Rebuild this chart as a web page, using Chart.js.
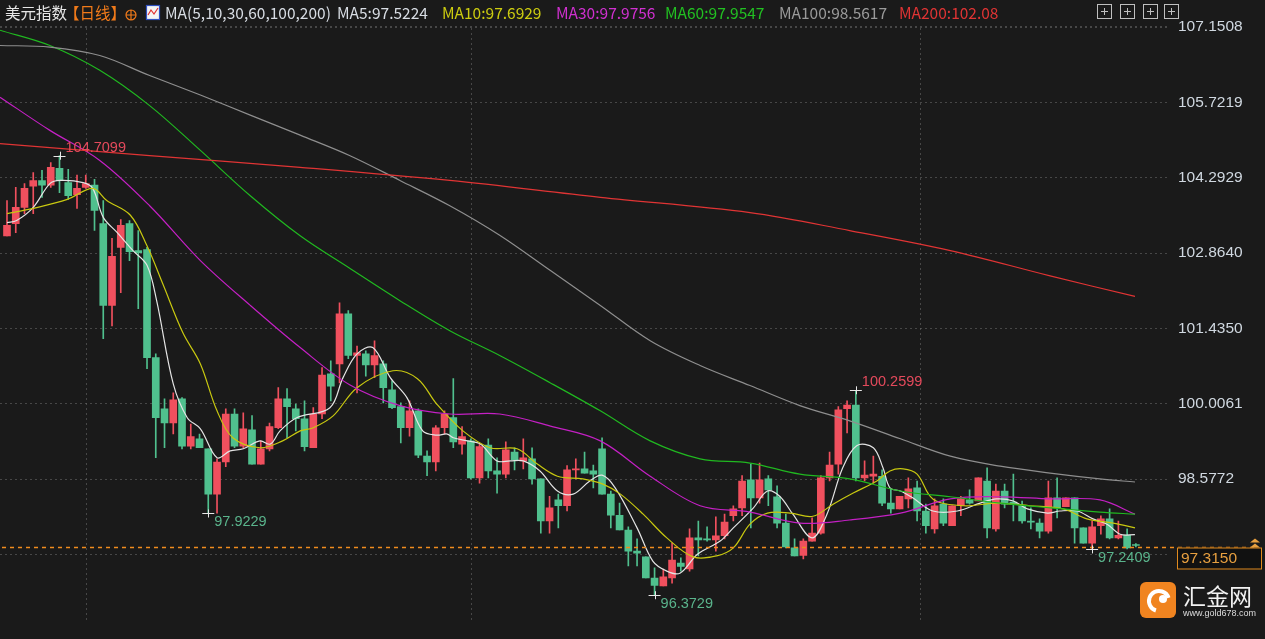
<!DOCTYPE html>
<html><head><meta charset="utf-8">
<script src="https://cdn.jsdelivr.net/npm/chart.js@4.4.0/dist/chart.umd.min.js"></script>
<style>html,body{margin:0;padding:0;background:#1a1a1a;overflow:hidden}#wrap{width:1265px;height:639px;position:relative}</style>
</head><body><div id="wrap"><canvas id="c" width="1265" height="639"></canvas></div>
<script>
const opens=[103.19,103.42,103.73,104.13,104.24,104.15,104.47,104.20,103.97,104.11,
104.15,103.42,101.87,102.97,103.42,102.91,102.93,100.88,99.91,99.64,
100.10,99.20,99.34,99.15,98.29,98.90,99.81,99.20,99.51,98.86,
99.15,99.55,100.10,99.91,99.72,99.17,99.81,100.57,100.76,101.71,
100.92,100.95,100.74,100.76,100.27,99.95,99.55,99.87,99.01,98.90,
99.55,99.74,99.24,99.30,98.60,99.22,98.73,98.67,99.09,98.92,
98.96,98.58,97.78,98.18,98.07,98.75,98.77,98.73,99.15,98.29,
97.89,97.61,97.21,97.10,96.70,96.55,96.70,96.98,96.87,97.46,
97.44,97.42,97.50,97.88,98.03,98.56,98.22,98.58,98.24,97.74,
97.27,97.13,97.40,97.55,98.60,98.86,99.91,99.98,98.60,98.63,
98.63,98.12,98.01,98.20,98.41,97.97,97.63,98.10,97.69,98.07,
98.18,98.16,98.54,97.63,98.35,98.14,98.07,97.78,97.74,97.59,
98.22,98.05,98.22,97.65,97.36,97.69,97.82,97.46,97.51,97.33];
const highs=[103.86,104.11,104.18,104.39,104.43,104.58,104.71,104.45,104.34,104.34,
104.26,103.86,103.14,103.50,103.48,103.29,102.97,100.95,100.10,100.21,
100.12,99.62,99.43,99.15,98.96,99.91,99.91,99.83,99.78,99.30,
99.64,100.31,100.29,100.00,100.06,99.93,100.69,100.82,101.92,101.77,
101.10,101.01,101.20,100.82,100.44,100.02,100.06,99.91,99.11,99.59,
99.87,100.48,99.57,99.34,99.24,99.34,98.98,99.28,99.17,99.34,
99.17,98.58,98.25,98.29,98.83,98.96,99.09,98.84,99.36,98.35,
98.12,97.67,97.44,97.10,96.89,96.87,97.36,97.08,97.63,97.78,
97.67,97.86,97.91,98.07,98.64,98.86,98.88,98.64,98.45,97.91,
97.44,97.44,97.84,98.64,99.09,99.95,100.06,100.26,98.92,99.01,
98.75,98.39,98.25,98.60,98.54,98.10,98.20,98.20,98.07,98.25,
98.37,98.60,98.79,98.48,98.48,98.67,98.16,98.03,97.82,98.54,
98.60,98.22,98.22,97.65,97.78,97.88,98.01,97.78,97.63,97.35];
const lows=[103.19,103.25,103.61,103.61,103.92,104.11,104.01,103.88,103.71,104.09,
103.29,101.24,101.48,102.11,102.72,101.81,100.67,98.98,99.17,99.43,
99.15,99.15,99.17,97.92,97.93,98.81,99.17,99.17,98.86,98.86,
99.11,99.53,99.36,99.49,99.11,99.17,99.72,100.06,100.40,100.86,
100.21,100.53,100.50,100.02,99.91,99.26,99.39,98.98,98.64,98.73,
99.43,99.17,99.05,98.58,98.50,98.60,98.31,98.60,98.75,98.77,
98.48,97.55,97.55,97.65,97.97,98.58,98.69,98.41,98.29,97.65,
97.61,96.93,96.93,96.70,96.37,96.55,96.60,96.83,96.83,97.12,
97.40,97.21,97.44,97.78,97.88,97.65,98.12,98.07,97.65,97.27,
97.12,97.06,97.40,97.53,98.54,98.67,99.45,98.54,98.54,98.50,
98.07,97.93,98.01,98.03,97.78,97.55,97.55,97.69,97.69,97.88,
98.10,98.16,97.46,97.59,98.03,97.78,97.74,97.63,97.46,97.55,
97.84,98.05,97.36,97.36,97.24,97.53,97.44,97.44,97.25,97.29];
const closes=[103.39,103.73,104.09,104.24,104.15,104.49,104.24,103.95,104.09,104.18,
103.67,101.87,102.80,103.39,102.89,102.87,100.88,99.74,99.64,100.08,
99.20,99.38,99.17,98.29,98.90,99.81,99.20,99.53,98.86,99.15,
99.57,100.10,99.95,99.72,99.19,99.81,100.55,100.34,101.71,100.92,
100.97,100.74,100.92,100.31,99.93,99.55,99.87,99.03,98.90,99.55,
99.81,99.28,99.38,98.60,99.19,98.73,98.67,99.13,98.94,98.98,
98.58,97.78,98.03,98.07,98.75,98.77,98.69,98.67,98.29,97.89,
97.61,97.21,97.17,96.70,96.56,96.72,97.04,96.92,97.46,97.42,
97.42,97.50,97.76,98.01,98.54,98.22,98.56,98.37,97.74,97.29,
97.12,97.40,97.55,98.60,98.84,99.89,99.98,98.60,98.65,98.67,
98.12,98.01,98.25,98.39,97.97,97.69,98.07,97.74,98.07,98.20,
98.12,98.60,97.65,98.35,98.10,98.10,97.78,97.76,97.59,98.22,
98.03,98.22,97.65,97.36,97.67,97.82,97.46,97.51,97.27,97.315];

// moving-average lines: [candle index, value]
const ma5=[[0,103.44],[1.1,103.48],[3,103.73],[4.9,104.18],[6.1,104.24],[8.7,104.20],[9.8,104.09],[11,103.54],[12.6,103.25],[14.4,102.91],[16,102.63],[17.1,101.96],[19,100.38],[20.6,99.74],[22.1,99.53],[24,98.98],[25.5,99.11],[27,99.15],[28.9,99.30],[30.1,99.24],[31.2,99.49],[33.1,99.74],[36.9,99.93],[38.4,100.50],[40,100.95],[41.8,101.07],[43.8,100.50],[45.7,100.12],[47.5,99.49],[49.1,99.41],[50.3,99.43],[51,99.36],[52.6,99.30],[54.1,99.24],[56,98.92],[57.5,98.92],[59,98.92],[60.9,98.73],[62.9,98.35],[64.7,98.29],[66.6,98.54],[68,98.65],[69.5,98.41],[72,97.65],[73.8,97.02],[75.4,96.83],[76.9,96.79],[78.9,97.15],[81.5,97.40],[83,97.65],[85.3,98.03],[86.9,98.35],[88.3,98.25],[89.8,97.91],[92,97.46],[93.7,97.91],[95.5,98.79],[97.1,99.21],[99,99.17],[100.1,98.79],[100.9,98.41],[102.1,98.35],[103.5,98.22],[105.8,97.97],[108.6,97.97],[111.2,98.12],[113.1,98.20],[115,98.16],[116.6,98.01],[118.9,97.93],[120.3,97.97],[122.3,97.97],[124.1,97.82],[125.7,97.72],[127.2,97.53],[128.9,97.52]];
const ma10=[[0,103.61],[3,103.71],[6.9,103.88],[9.8,104.09],[11.4,103.86],[14.1,103.58],[16,103.00],[17.8,102.28],[20.1,101.35],[22.1,100.76],[24,99.87],[25.8,99.36],[28.9,99.17],[31.5,99.30],[33.5,99.49],[35,99.55],[37.3,99.78],[40,100.31],[44.1,100.63],[46.9,100.48],[49.1,100.00],[52.1,99.49],[55.2,99.17],[58.3,99.15],[60.6,98.86],[62.9,98.63],[65.8,98.58],[68.1,98.48],[70.1,98.29],[72.7,97.91],[75.4,97.46],[78.4,97.10],[81.1,97.12],[83,97.27],[84.9,97.72],[86.9,97.93],[89.5,97.93],[92.1,97.87],[94.4,98.10],[96.7,98.31],[99.4,98.54],[100.9,98.73],[102.4,98.77],[104,98.67],[105.8,98.20],[109.3,98.07],[113.1,98.12],[116.9,98.07],[120.7,98.01],[123.4,97.82],[126.4,97.74],[128.9,97.65]];
const gridIdx=[-0.8,4.9,10.6,16.3,22.1,27.8,33.5,39.2,44.9,50.6,56.3,62.1,67.8,73.5,79.2,84.9,90.6,96.3,102.1,107.8,113.5,119.2,124.9,128.9];
const ma30=[105.82,105.19,104.62,103.76,102.72,101.87,101.07,100.36,99.97,99.81,99.81,99.58,99.30,98.63,98.07,97.95,97.74,97.80,97.93,98.20,98.24,98.20,98.18,97.91];
const ma60=[107.09,106.80,106.33,105.66,104.81,103.95,103.19,102.57,101.96,101.39,100.92,100.40,99.87,99.30,98.96,98.88,98.67,98.58,98.35,98.24,98.12,98.03,97.95,97.91];
const ma100=[106.80,106.77,106.61,106.23,105.86,105.48,105.10,104.71,104.24,103.76,103.20,102.53,101.87,101.20,100.73,100.35,99.97,99.68,99.34,99.01,98.82,98.69,98.58,98.52];
const ma200Idx=[-0.8,16.3,33.5,50.6,67.8,84.9,96.3,107.8,119.2,128.9];
const ma200=[104.94,104.71,104.49,104.24,103.92,103.63,103.29,102.91,102.43,102.04];
const tickVals=[107.1508,105.7219,104.2929,102.8640,101.4350,100.0061,98.5772,97.1483];
const lastPrice=97.3150;
const marks=[{i:6,v:104.7099,hi:true},{i:23,v:97.9229,hi:false},{i:74,v:96.3729,hi:false},{i:97,v:100.2599,hi:true},{i:124,v:97.2409,hi:false}];
const vLines=[9.0,53.0,104.3];
const header=[["美元指数","#e6e6e6",5],["【日线】","#f07a1a",64],["MA(5,10,30,60,100,200)","#d8dde4",165],["MA5:97.5224","#d8dde4",337],["MA10:97.6929","#cccc10",442],["MA30:97.9756","#d030d0",556],["MA60:97.9547","#22c022",665],["MA100:98.5617","#9a9a9a",779],["MA200:102.08","#e03434",899]];

const UP='#f0505e', DN='#50c08e';
const idx=opens.map((_,i)=>i);
const col=i=>closes[i]>=opens[i]?UP:DN;
const line=(pts,c)=>({type:'line',data:pts,borderColor:c,borderWidth:1.2,pointRadius:0,tension:0.35,fill:false,order:0});
const PXU=52.72;
let fitted=false;
const fitY={id:'fitY',afterLayout(ch){if(fitted)return;fitted=true;const a=ch.chartArea;const o=ch.options.scales.y;
 o.max=tickVals[0]+(27-a.top)/PXU;o.min=tickVals[0]-(a.bottom-27)/PXU;ch.update();}};

const overlay={id:'ov',
beforeDatasetsDraw(ch){const {ctx,chartArea:a,scales:{x}}=ch;ctx.save();ctx.strokeStyle='rgba(110,110,110,0.55)';ctx.setLineDash([2,3]);ctx.lineWidth=1;
 vLines.forEach(v=>{const px=Math.round(x.getPixelForValue(v))+0.5;ctx.beginPath();ctx.moveTo(px,28);ctx.lineTo(px,a.bottom);ctx.stroke();});ctx.restore();},
afterDraw(ch){const {ctx,chartArea:a,scales:{x,y}}=ch;ctx.save();
 const py=Math.round(y.getPixelForValue(lastPrice))+1.5;ctx.strokeStyle='#f08c1e';ctx.lineWidth=1.3;ctx.setLineDash([4,4]);ctx.beginPath();ctx.moveTo(2,py);ctx.lineTo(1255,py);ctx.stroke();ctx.setLineDash([]);
 ctx.fillStyle='#111';ctx.fillRect(1177,py,85,22);ctx.strokeStyle='#e08a1e';ctx.lineWidth=1;ctx.strokeRect(1177.5,py+0.5,84,21);
 ctx.fillStyle='#e8a040';ctx.font='15.5px "Liberation Sans"';ctx.textBaseline='middle';ctx.textAlign='left';ctx.fillText(lastPrice.toFixed(4),1181,py+11.5);
 [py-9,py-4].forEach(t=>{ctx.beginPath();ctx.moveTo(1250,t+4);ctx.lineTo(1255,t);ctx.lineTo(1260,t+4);ctx.fill();});
 ctx.font='14.5px "Liberation Sans"';
 marks.forEach(m=>{const px=x.getPixelForValue(m.i),yy=y.getPixelForValue(m.v);ctx.strokeStyle='#e8e8e8';ctx.lineWidth=1;ctx.beginPath();ctx.moveTo(px-6,Math.round(yy)+0.5);ctx.lineTo(px+6,Math.round(yy)+0.5);ctx.moveTo(Math.round(px)+0.5,yy-4);ctx.lineTo(Math.round(px)+0.5,yy+4);ctx.stroke();
  ctx.fillStyle=m.hi?'#e44a5c':'#5ab48c';ctx.fillText(m.v.toFixed(4),px+6,m.hi?yy-8:yy+9);});
 ctx.fillStyle='#1a1a1a';ctx.fillRect(0,0,1170,26);
 ctx.font='15.5px "Noto Sans CJK SC"';ctx.textBaseline='middle';
 header.forEach(h=>{ctx.fillStyle=h[1];ctx.fillText(h[0],h[2],13);});
 ctx.strokeStyle='#f07a1a';ctx.lineWidth=1.2;ctx.beginPath();ctx.arc(131,15,5,0,Math.PI*2);ctx.moveTo(126,15);ctx.lineTo(136,15);ctx.moveTo(131,10);ctx.lineTo(131,20);ctx.stroke();
 ctx.fillStyle='#f4f4f4';ctx.fillRect(146,5,14,15);ctx.strokeStyle='#3050c0';ctx.strokeRect(146.5,5.5,13,14);ctx.strokeStyle='#e03030';ctx.beginPath();ctx.moveTo(148,15);ctx.lineTo(151,10);ctx.lineTo(154,14);ctx.lineTo(158,8);ctx.stroke();
 ctx.strokeStyle='#bfbfbf';ctx.lineWidth=1;[1097,1120,1143,1164].forEach(bx=>{ctx.strokeRect(bx+0.5,4.5,14,14);ctx.beginPath();ctx.moveTo(bx+4,11.5);ctx.lineTo(bx+11,11.5);ctx.moveTo(bx+7.5,8);ctx.lineTo(bx+7.5,15);ctx.stroke();});
 ctx.strokeStyle='rgba(110,110,110,0.55)';ctx.setLineDash([2,3]);ctx.beginPath();ctx.moveTo(0,26.5);ctx.lineTo(1170,26.5);ctx.stroke();ctx.setLineDash([]);
 ctx.fillStyle='#f08420';ctx.beginPath();ctx.roundRect(1140,582,36,36,6);ctx.fill();
 ctx.strokeStyle='#fff';ctx.lineWidth=4;ctx.beginPath();ctx.arc(1159,601,10,Math.PI*0.6,Math.PI*1.9);ctx.stroke();
 ctx.fillStyle='#fff';ctx.beginPath();ctx.arc(1163,599,4,0,Math.PI*2);ctx.fill();
 ctx.fillStyle='#f2f2f2';ctx.font='23px "Noto Sans CJK SC"';ctx.fillText('汇金网',1183,596);
 ctx.font='9px "Liberation Sans"';ctx.fillStyle='#dddddd';ctx.fillText('www.gold678.com',1183,614);
 ctx.restore();}};

new Chart(document.getElementById('c'),{
 data:{datasets:[
  {type:'bar',data:idx.map(i=>({x:i,y:[lows[i],highs[i]]})),backgroundColor:idx.map(col),barThickness:1,grouped:false,order:2},
  {type:'bar',data:idx.map(i=>({x:i,y:[opens[i],closes[i]]})),backgroundColor:idx.map(col),barThickness:7,grouped:false,order:1,minBarLength:1},
  line(ma200Idx.map((v,k)=>({x:v,y:ma200[k]})),'#e03434'),
  line(gridIdx.map((v,k)=>({x:v,y:ma100[k]})),'#8e8e8e'),
  line(gridIdx.map((v,k)=>({x:v,y:ma60[k]})),'#20b820'),
  line(gridIdx.map((v,k)=>({x:v,y:ma30[k]})),'#c420c4'),
  line(ma10.map(p=>({x:p[0],y:p[1]})),'#c8c810'),
  line(ma5.map(p=>({x:p[0],y:p[1]})),'#e4e4e4')
 ]},
 options:{responsive:false,animation:false,maintainAspectRatio:false,
  layout:{padding:{top:0,bottom:19,left:0,right:0}},
  plugins:{legend:{display:false},tooltip:{enabled:false}},
  scales:{
   x:{type:'linear',min:-0.8,max:132.9,offset:false,display:false,grid:{display:false}},
   y:{position:'right',min:95.88,max:107.66,
    afterBuildTicks:s=>{s.ticks=tickVals.map(v=>({value:v}));},
    afterFit:s=>{s.width=95;},
    ticks:{color:'#d0d8e0',font:{family:'Liberation Sans',size:15.5},padding:8,callback:v=>v.toFixed(4)},
    grid:{color:'rgba(110,110,110,0.55)',drawTicks:false},border:{display:false,dash:[2,3]}}
  }},
 plugins:[fitY,overlay,{id:'bg',beforeDraw(ch){const c=ch.ctx;c.save();c.fillStyle='#1a1a1a';c.fillRect(0,0,ch.width,ch.height);c.restore();}}]
});
</script></body></html>
